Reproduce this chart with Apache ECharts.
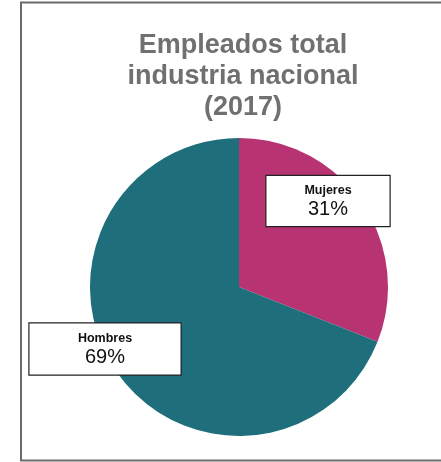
<!DOCTYPE html>
<html>
<head>
<meta charset="utf-8">
<script src="https://cdn.jsdelivr.net/npm/echarts@6/dist/echarts.min.js"></script>
<style>
  html, body { margin: 0; padding: 0; background: #fff; }
  #chart { width: 441px; height: 462px; }
</style>
</head>
<body>
<div id="chart"></div>
<script>
// data
const categories = ['Mujeres', 'Hombres']
const values = [31, 69]
const colors = ['#b83371', '#1e6f7b']

// label boxes (center x, center y, width, height)
const labelBoxes = [
  [328, 201, 123, 50],
  [105, 349, 151, 51]
]

const chart = echarts.init(document.getElementById('chart'), null, {renderer: 'canvas'})

const pieData = categories.map((name, i) => {
  const padV = (labelBoxes[i][3] - 38) / 2
  return {
    name: name,
    value: values[i],
    itemStyle: {color: colors[i]},
    label: {width: labelBoxes[i][2], padding: [padV, 0, padV, 0]}
  }
})

const option = {
  animation: false,
  title: {
    text: 'Empleados total\nindustria nacional\n(2017)',
    left: 238,
    textAlign: 'center',
    top: 25,
    textStyle: {
      fontFamily: 'Liberation Sans',
      fontSize: 27,
      fontWeight: 'bold',
      color: '#707070',
      lineHeight: 31
    }
  },
  graphic: [
    {
      type: 'rect',
      shape: {x: 21, y: 2.5, width: 440, height: 458},
      style: {fill: 'none', stroke: '#6a6a6a', lineWidth: 2},
      silent: true
    }
  ],
  series: [
    {
      type: 'pie',
      center: [239, 287],
      radius: 149,
      startAngle: 90,
      silent: true,
      data: pieData,
      labelLine: {show: false},
      label: {
        show: true,
        position: 'outside',
        formatter: '{n|{b}}\n{v|{c}%}',
        backgroundColor: '#fff',
        borderColor: '#222',
        borderWidth: 1.2,
        align: 'center',
        verticalAlign: 'middle',
        rich: {
          n: {fontFamily: 'Liberation Sans', fontSize: 12.5, fontWeight: 'bold', color: '#111', lineHeight: 17, align: 'center'},
          v: {fontFamily: 'Liberation Sans', fontSize: 20, color: '#111', lineHeight: 21, align: 'center'}
        }
      },
      labelLayout: function (params) {
        const b = labelBoxes[params.dataIndex]
        return {x: b[0], y: b[1], align: 'center', verticalAlign: 'middle'}
      }
    }
  ]
}

option && chart.setOption(option)
</script>
</body>
</html>
